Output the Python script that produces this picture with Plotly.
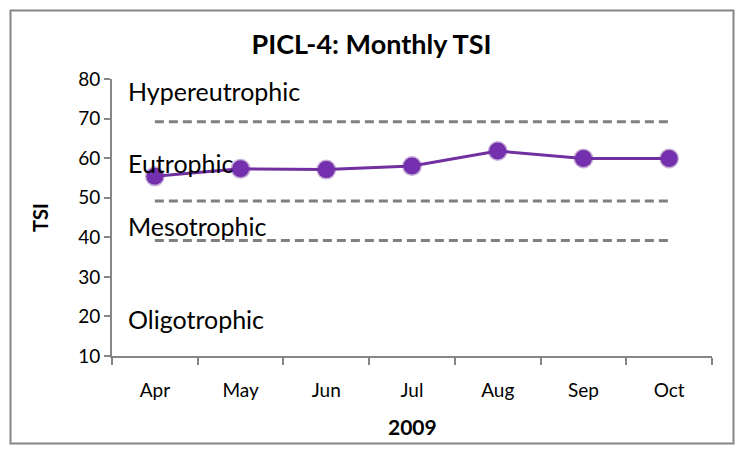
import plotly.graph_objects as go

months = ["Apr", "May", "Jun", "Jul", "Aug", "Sep", "Oct"]
tsi = [55.4, 57.3, 57.1, 58.0, 61.8, 59.9, 59.9]
thresholds = [69.2, 49.2, 39.2]
zone_labels = ["Hypereutrophic", "Eutrophic", "Mesotrophic", "Oligotrophic"]
zone_label_y = [77, 58.7, 42.8, 19.3]
y_ticks = [10, 20, 30, 40, 50, 60, 70, 80]

FONT = "Lato, Carlito, Calibri, sans-serif"
W, H = 743, 453
L, R, T, B = 112, 31, 79, 97
pw, ph = W - L - R, H - T - B

fig = go.Figure()
for th in thresholds:
    fig.add_trace(go.Scatter(x=months, y=[th] * len(months), mode="lines",
                             line=dict(color="#808080", width=3, dash="9px,5px"),
                             hoverinfo="skip", showlegend=False))
fig.add_trace(go.Scatter(x=months, y=tsi, mode="lines+markers",
                         line=dict(color="#7030A0", width=3),
                         marker=dict(size=17, color="#7430AE",
                                     line=dict(color="rgba(112,48,160,0.4)", width=3)),
                         showlegend=False))

for lab, yy in zip(zone_labels, zone_label_y):
    fig.add_annotation(x=(126 - L) / pw, xref="paper", y=yy, yref="y", text=lab,
                       showarrow=False, xanchor="left", yanchor="middle",
                       font=dict(family=FONT, size=25, color="#000"))

def px2x(p): return (p - L) / pw
def py2y(p): return (H - B - p) / ph

fig.add_shape(type="rect", xref="paper", yref="paper",
              x0=px2x(10.5), x1=px2x(733.5), y0=py2y(443.5), y1=py2y(10.5),
              line=dict(color="#868686", width=2))

fig.add_annotation(x=px2x(40), xref="paper", y=py2y(218), yref="paper",
                   text="<b>TSI</b>", textangle=-90, showarrow=False,
                   xanchor="center", yanchor="middle",
                   font=dict(family=FONT, size=20, color="#000"))
fig.add_annotation(x=0.5, xref="paper", y=py2y(426), yref="paper",
                   text="<b>2009</b>", showarrow=False,
                   xanchor="center", yanchor="middle",
                   font=dict(family=FONT, size=21, color="#000"))

fig.update_layout(
    width=W, height=H, margin=dict(l=L, r=R, t=T, b=B),
    paper_bgcolor="white", plot_bgcolor="white",
    title=dict(text="<b>PICL-4: Monthly TSI</b>", x=0.5, xanchor="center",
               y=1 - 45 / H, yanchor="middle", font=dict(family=FONT, size=27, color="#000")),
    font=dict(family=FONT, size=19, color="#000"),
    xaxis=dict(type="category", categoryorder="array", categoryarray=months,
               tickson="boundaries", ticks="outside", ticklen=7, tickcolor="#868686",
               tickwidth=2,
               showline=True, linecolor="#868686", linewidth=2, showgrid=False,
               range=[-0.5, 6.5], zeroline=False, ticklabelstandoff=16,
               tickfont=dict(family=FONT, size=19)),
    yaxis=dict(range=[10, 80], tickvals=y_ticks, ticks="outside", ticklen=6,
               tickcolor="#868686", tickwidth=2, showline=True, linecolor="#868686",
               linewidth=2, showgrid=False, zeroline=False, ticklabelstandoff=0,
               tickfont=dict(family=FONT, size=19)),
)

fig.write_html("out.html", config={"displayModeBar": False},
               post_script="document.body.style.margin='0';")
